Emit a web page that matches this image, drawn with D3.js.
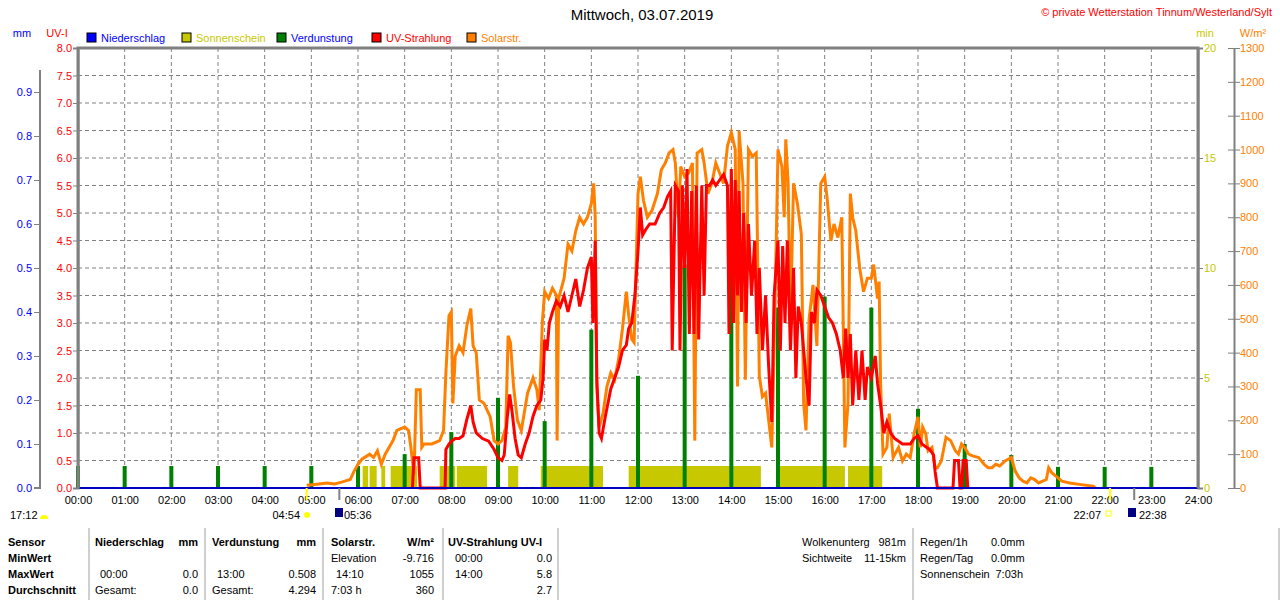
<!DOCTYPE html>
<html>
<head>
<meta charset="utf-8">
<script src="https://cdn.jsdelivr.net/npm/d3@7"></script>
<style>
  body { margin: 0; background: #fff; }
  svg text { font-family: "Liberation Sans", Arial, sans-serif; font-size: 11px; }
</style>
</head>
<body>
<svg id="chart" width="1280" height="600"></svg>
<script>
"use strict";
// hourly evaporation (mm)
var evapHours = d3.range(0, 24);
var evapValues = [0.05, 0.05, 0.05, 0.05, 0.05, 0.05, 0.05, 0.077, 0.127, 0.205, 0.152, 0.36,
  0.255, 0.508, 0.51, 0.41, 0.435, 0.41, 0.18, 0.10, 0.075, 0.048, 0.048, 0.048];

// sunshine intervals (1 min per minute)
var sunStart = ["06:06", "06:15", "06:30", "06:42", "07:45", "08:07", "09:13", "09:55", "11:48", "15:01", "16:30"];
var sunEnd = ["06:13", "06:24", "06:35", "07:16", "08:05", "08:46", "09:26", "11:15", "14:38", "16:26", "17:14"];

// solar radiation W/m²
var solarData = [["04:54",8],["05:10",12],["05:20",15],["05:30",12],["05:40",18],["05:50",25],["05:55",50],["06:00",70],["06:05",85],
["06:15",100],["06:20",90],["06:25",110],["06:30",70],["06:35",100],["06:45",140],["06:50",170],["07:00",180],["07:05",170],
["07:08",120],["07:12",40],["07:15",290],["07:20",290],["07:22",120],["07:25",130],["07:35",130],["07:45",140],["07:50",170],
["07:53",340],["07:57",510],["08:00",520],["08:02",250],["08:05",390],["08:10",420],["08:15",400],["08:20",480],["08:25",530],
["08:28",420],["08:32",400],["08:36",260],["08:42",250],["08:50",210],["08:55",140],["09:00",130],["09:05",140],["09:10",180],
["09:13",450],["09:16",430],["09:20",300],["09:25",200],["09:30",170],["09:38",280],["09:45",325],["09:50",290],["09:53",230],
["09:57",490],["10:00",580],["10:05",560],["10:10",590],["10:15",570],["10:16",140],["10:18",560],["10:25",620],["10:30",720],
["10:35",700],["10:40",760],["10:45",800],["10:50",780],["10:55",800],["11:00",840],["11:03",900],["11:05",800],["11:07",300],
["11:10",180],["11:15",220],["11:20",300],["11:25",340],["11:30",320],["11:35",380],["11:40",470],["11:45",580],["11:48",510],
["11:52",440],["11:55",430],["12:00",870],["12:03",920],["12:07",850],["12:12",800],["12:18",820],["12:25",870],["12:30",940],
["12:35",960],["12:40",990],["12:45",1000],["12:48",960],["12:52",800],["12:55",950],["13:00",920],["13:05",930],["13:10",960],
["13:13",140],["13:16",990],["13:22",1000],["13:25",960],["13:30",870],["13:35",900],["13:40",960],["13:45",930],["13:50",900],
["13:55",1010],["14:00",1050],["14:05",1000],["14:08",300],["14:10",1055],["14:15",900],["14:18",320],["14:22",1000],["14:27",980],
["14:32",990],["14:36",330],["14:40",270],["14:44",280],["14:48",200],["14:52",120],["14:55",400],["15:00",1000],["15:05",950],
["15:08",800],["15:10",1030],["15:13",900],["15:16",500],["15:20",900],["15:25",840],["15:30",750],["15:33",250],["15:36",170],
["15:40",500],["15:45",600],["15:50",420],["15:55",900],["16:00",920],["16:03",860],["16:08",730],["16:12",780],["16:17",740],
["16:22",800],["16:26",120],["16:30",250],["16:33",870],["16:36",800],["16:40",760],["16:45",650],["16:50",580],["16:55",620],
["17:00",620],["17:03",660],["17:08",560],["17:10",610],["17:12",300],["17:15",100],["17:20",120],["17:23",220],["17:28",90],
["17:35",120],["17:40",80],["17:45",100],["17:50",90],["17:55",160],["18:00",210],["18:03",120],["18:06",180],["18:10",160],
["18:13",110],["18:18",120],["18:22",60],["18:25",60],["18:30",80],["18:36",150],["18:42",140],["18:48",110],["18:52",100],
["18:56",130],["19:00",120],["19:05",100],["19:10",95],["19:18",90],["19:25",70],["19:30",60],["19:35",60],["19:40",70],
["19:45",65],["19:52",80],["20:00",90],["20:05",50],["20:10",30],["20:15",20],["20:20",15],["20:25",30],["20:30",25],["20:35",15],
["20:45",25],["20:48",60],["20:52",45],["21:00",30],["21:05",20],["21:15",15],["21:30",10],["21:45",5],["21:48",2]];

// UV index
var uvData = [["07:10",0],["07:12",0.55],["07:18",0.55],["07:20",0],["07:52",0],["07:53",0.7],["07:57",0.8],["08:00",0.85],
["08:05",0.9],["08:10",0.9],["08:15",0.95],["08:20",1.25],["08:25",1.5],["08:28",1.2],["08:32",1.0],["08:40",0.9],["08:48",0.85],
["08:55",0.7],["09:00",0.55],["09:05",0.5],["09:08",0.6],["09:12",1.3],["09:15",1.7],["09:18",1.4],["09:22",0.9],["09:26",0.6],
["09:30",0.55],["09:35",0.8],["09:40",1.0],["09:45",1.3],["09:50",1.5],["09:55",1.6],["09:58",2.0],["10:00",2.7],["10:03",2.5],
["10:06",3.0],["10:10",3.2],["10:15",3.4],["10:20",3.3],["10:25",3.5],["10:30",3.2],["10:35",3.5],["10:40",3.8],["10:45",3.3],
["10:50",3.6],["10:55",4.0],["11:00",4.2],["11:02",3.0],["11:05",4.5],["11:07",2.0],["11:10",1.0],["11:13",0.9],["11:18",1.3],
["11:25",1.8],["11:30",2.0],["11:35",2.2],["11:40",2.5],["11:45",2.6],["11:48",2.9],["11:52",3.0],["11:56",3.5],["12:00",4.3],
["12:03",5.1],["12:06",4.6],["12:10",4.7],["12:15",4.8],["12:22",4.8],["12:28",5.0],["12:33",5.1],["12:38",5.3],["12:42",5.4],
["12:44",2.5],["12:48",5.5],["12:52",5.4],["12:54",2.5],["12:57",5.5],["13:00",4.0],["13:03",5.8],["13:06",2.8],["13:09",5.4],
["13:12",2.8],["13:15",5.5],["13:18",2.7],["13:22",5.5],["13:25",3.5],["13:28",5.5],["13:32",5.5],["13:36",5.6],["13:40",5.5],
["13:45",5.6],["13:50",5.7],["13:55",5.5],["13:57",2.8],["14:00",5.8],["14:03",3.0],["14:05",5.6],["14:08",3.5],["14:10",5.4],
["14:13",3.2],["14:16",5.0],["14:19",3.0],["14:22",4.8],["14:26",3.5],["14:30",4.5],["14:33",2.8],["14:36",4.0],["14:40",2.5],
["14:44",3.5],["14:48",2.2],["14:52",1.2],["14:55",3.5],["15:00",4.5],["15:03",2.5],["15:06",4.4],["15:09",3.0],["15:12",4.5],
["15:16",2.5],["15:20",4.0],["15:23",2.0],["15:26",3.3],["15:30",3.0],["15:33",2.5],["15:36",2.0],["15:40",1.5],["15:43",3.2],
["15:47",3.0],["15:50",3.6],["15:55",3.5],["16:00",3.3],["16:05",3.1],["16:10",3.0],["16:15",2.8],["16:20",2.5],["16:24",2.0],
["16:27",2.9],["16:30",2.0],["16:33",2.8],["16:36",1.5],["16:40",2.5],["16:44",1.6],["16:48",2.5],["16:52",1.6],["16:55",2.2],
["17:00",2.0],["17:05",2.4],["17:08",1.9],["17:12",1.5],["17:16",1.0],["17:20",1.2],["17:25",1.0],["17:30",0.9],["17:40",0.8],
["17:50",0.8],["17:55",0.9],["18:00",0.95],["18:05",0.8],["18:10",0.75],["18:15",0.7],["18:20",0.6],["18:22",0.3],["18:25",0],
["18:45",0],["18:47",0.5],["18:52",0.5],["18:54",0],["18:56",0],["18:58",0.5],["19:02",0.5],["19:04",0]];

var hourTicks = d3.range(0, 25);
var mmTicks = d3.range(0, 10).map(function(d) { return d / 10; });
var uvTicks = d3.range(0, 17).map(function(d) { return d / 2; });
var minTicks = [0, 5, 10, 15, 20];
var wTicks = d3.range(0, 14).map(function(d) { return d * 100; });

function toH(s) { var p = s.split(":"); return +p[0] + p[1] / 60; }

var svg = d3.select("#chart");
var L = 78, R = 1198, T = 48, B = 488;
var x = d3.scaleLinear().domain([0, 24]).range([L, R]);
var yUV = d3.scaleLinear().domain([0, 8]).range([B, T]);
var yMM = d3.scaleLinear().domain([0, 1]).range([B, T]);
var yMin = d3.scaleLinear().domain([0, 20]).range([B, T]);
var yW = d3.scaleLinear().domain([0, 1300]).range([B, T]);

// grid
svg.append("g").selectAll("line").data(hourTicks.slice(1, 24)).enter().append("line")
  .attr("x1", function(d) { return x(d); }).attr("x2", function(d) { return x(d); })
  .attr("y1", T).attr("y2", B).attr("stroke", "#808080").attr("stroke-dasharray", "4,3");
svg.append("g").selectAll("line").data(uvTicks.slice(1, 16)).enter().append("line")
  .attr("x1", L).attr("x2", R).attr("y1", function(d) { return yUV(d); }).attr("y2", function(d) { return yUV(d); })
  .attr("stroke", "#808080").attr("stroke-dasharray", "4,3");

// sunshine
svg.append("g").selectAll("rect").data(sunStart).enter().append("rect")
  .attr("x", function(d) { return x(toH(d)); })
  .attr("width", function(d, i) { return x(toH(sunEnd[i])) - x(toH(d)); })
  .attr("y", yMin(1)).attr("height", B - yMin(1)).attr("fill", "#c8c800");

// evaporation
svg.append("g").selectAll("rect").data(evapHours).enter().append("rect")
  .attr("x", function(d) { return x(d) - 2; }).attr("width", 4)
  .attr("y", function(d, i) { return yMM(evapValues[i]); })
  .attr("height", function(d, i) { return B - yMM(evapValues[i]); })
  .attr("fill", "#008000");

var solarLine = d3.line().x(function(d) { return x(toH(d[0])); }).y(function(d) { return yW(d[1]); });
svg.append("path").datum(solarData).attr("d", solarLine).attr("fill", "none")
  .attr("stroke", "#ff8000").attr("stroke-width", 3);
var uvLine = d3.line().x(function(d) { return x(toH(d[0])); }).y(function(d) { return yUV(d[1]); });
svg.append("path").datum(uvData).attr("d", uvLine).attr("fill", "none")
  .attr("stroke", "#ff0000").attr("stroke-width", 3);

// frame
svg.append("line").attr("x1", L).attr("x2", R).attr("y1", B).attr("y2", B).attr("stroke", "#0000c0").attr("stroke-width", 2);
svg.append("path").attr("d", "M" + L + "," + B + "V" + T + "H" + R + "V" + B)
  .attr("fill", "none").attr("stroke", "#808080").attr("stroke-width", 3);

// axes
function styleAxis(g, color) {
  g.select(".domain").attr("stroke", "#808080").attr("stroke-width", 2);
  g.selectAll(".tick line").attr("stroke", "#808080");
  g.selectAll("text").attr("fill", color).style("font-size", "11px");
}
svg.append("g").attr("transform", "translate(" + L + ",0)")
  .call(d3.axisLeft(yUV).tickValues(uvTicks).tickFormat(d3.format(".1f")).tickSize(5).tickPadding(1))
  .call(styleAxis, "#ff0000");
svg.append("g").attr("transform", "translate(40,0)")
  .call(d3.axisLeft(yMM).tickValues(mmTicks).tickFormat(d3.format(".1f")).tickSize(6).tickPadding(2).tickSizeOuter(0))
  .call(styleAxis, "#0000ff")
  .select(".domain").attr("d", "M-6," + yMM(0) + "H0V" + yMM(0.95));
svg.append("g").attr("transform", "translate(" + R + ",0)")
  .call(d3.axisRight(yMin).tickValues(minTicks).tickSize(5).tickPadding(1))
  .call(styleAxis, "#c8c800");
svg.append("g").attr("transform", "translate(1234,0)")
  .call(d3.axisRight(yW).tickValues(wTicks).tickFormat(d3.format("d")).tickSize(6).tickPadding(0).tickSizeOuter(0))
  .call(styleAxis, "#ff8000")
  .selectAll(".tick line").attr("x1", -6);
var xa = svg.append("g").attr("transform", "translate(0," + B + ")")
  .call(d3.axisBottom(x).tickValues(hourTicks).tickFormat(function(d) { return d3.format("02")(d) + ":00"; }).tickSize(0).tickPadding(8))
  .call(styleAxis, "#000");
xa.select(".domain").remove();

// axis titles
svg.append("text").attr("x", 22).attr("y", 37).attr("text-anchor", "middle").attr("fill", "#0000ff").text("mm");
svg.append("text").attr("x", 57).attr("y", 37).attr("text-anchor", "middle").attr("fill", "#ff0000").text("UV-I");
svg.append("text").attr("x", 1205).attr("y", 37).attr("text-anchor", "middle").attr("fill", "#c8c800").text("min");
svg.append("text").attr("x", 1253).attr("y", 37).attr("text-anchor", "middle").attr("fill", "#ff8000").text("W/m²");

// title
svg.append("text").attr("x", 642).attr("y", 20).attr("text-anchor", "middle").style("font-size", "15px").text("Mittwoch, 03.07.2019");
svg.append("text").attr("x", 1272).attr("y", 16).attr("text-anchor", "end").attr("fill", "#ff0000").text("© private Wetterstation Tinnum/Westerland/Sylt");

// legend
var legNames = ["Niederschlag", "Sonnenschein", "Verdunstung", "UV-Strahlung", "Solarstr."];
var legColors = ["#0000ff", "#c8c800", "#008000", "#ff0000", "#ff8000"];
var legText = ["#0000ff", "#c8c800", "#0000ff", "#ff0000", "#ff8000"];
var legX = [87, 182, 277, 372, 467];
var lg = svg.append("g").selectAll("g").data(legNames).enter().append("g")
  .attr("transform", function(d, i) { return "translate(" + legX[i] + ",33)"; });
lg.append("rect").attr("width", 9).attr("height", 9).attr("fill", function(d, i) { return legColors[i]; }).attr("stroke", "#000");
lg.append("text").attr("x", 14).attr("y", 9).attr("fill", function(d, i) { return legText[i]; }).text(function(d) { return d; });

// sun rise/set markers
var sunMarks = [["04:54", "#ffff00"], ["05:36", "#808080"], ["22:07", "#ffff00"], ["22:38", "#808080"]];
svg.append("g").selectAll("line").data(sunMarks).enter().append("line")
  .attr("x1", function(d) { return x(toH(d[0])); }).attr("x2", function(d) { return x(toH(d[0])); })
  .attr("y1", B).attr("y2", 500).attr("stroke", function(d) { return d[1]; }).attr("stroke-width", 2);
svg.append("text").attr("x", 300).attr("y", 519).attr("text-anchor", "end").text("04:54");
svg.append("circle").attr("cx", 307).attr("cy", 515).attr("r", 3).attr("fill", "#ffff00");
svg.append("rect").attr("x", 335).attr("y", 508).attr("width", 8).attr("height", 9).attr("fill", "#000080");
svg.append("text").attr("x", 344).attr("y", 519).text("05:36");
svg.append("text").attr("x", 10).attr("y", 519).text("17:12");
svg.append("path").attr("d", "M40,519a4,4 0 0 1 8,0z").attr("fill", "#ffff00");
svg.append("text").attr("x", 1101).attr("y", 519).attr("text-anchor", "end").text("22:07");
svg.append("rect").attr("x", 1106).attr("y", 511).attr("width", 5).attr("height", 5).attr("fill", "none").attr("stroke", "#ffff00");
svg.append("rect").attr("x", 1128).attr("y", 508).attr("width", 8).attr("height", 9).attr("fill", "#000080");
svg.append("text").attr("x", 1139).attr("y", 519).text("22:38");

// table
var rowsY = [546, 562, 578, 594];
var tbl = svg.append("g");
[89, 205, 323, 443, 558, 913].forEach(function(vx) {
  tbl.append("line").attr("x1", vx).attr("x2", vx).attr("y1", 528).attr("y2", 600).attr("stroke", "#a0a0a0");
});
tbl.append("line").attr("x1", 1279).attr("x2", 1279).attr("y1", 528).attr("y2", 600).attr("stroke", "#a0a0a0");
var cells = [
  [8, 0, "Sensor", "start", 1], [8, 1, "MinWert", "start", 1], [8, 2, "MaxWert", "start", 1], [8, 3, "Durchschnitt", "start", 1],
  [95, 0, "Niederschlag", "start", 1], [198, 0, "mm", "end", 1], [100, 2, "00:00", "start", 0], [198, 2, "0.0", "end", 0],
  [95, 3, "Gesamt:", "start", 0], [198, 3, "0.0", "end", 0],
  [212, 0, "Verdunstung", "start", 1], [316, 0, "mm", "end", 1], [217, 2, "13:00", "start", 0], [316, 2, "0.508", "end", 0],
  [212, 3, "Gesamt:", "start", 0], [316, 3, "4.294", "end", 0],
  [331, 0, "Solarstr.", "start", 1], [434, 0, "W/m²", "end", 1], [331, 1, "Elevation", "start", 0], [434, 1, "-9.716", "end", 0],
  [336, 2, "14:10", "start", 0], [434, 2, "1055", "end", 0], [331, 3, "7:03 h", "start", 0], [434, 3, "360", "end", 0],
  [448, 0, "UV-Strahlung UV-I", "start", 1], [455, 1, "00:00", "start", 0], [552, 1, "0.0", "end", 0],
  [455, 2, "14:00", "start", 0], [552, 2, "5.8", "end", 0], [552, 3, "2.7", "end", 0],
  [802, 0, "Wolkenunterg", "start", 0], [906, 0, "981m", "end", 0], [802, 1, "Sichtweite", "start", 0], [906, 1, "11-15km", "end", 0],
  [920, 0, "Regen/1h", "start", 0], [991, 0, "0.0mm", "start", 0], [920, 1, "Regen/Tag", "start", 0], [991, 1, "0.0mm", "start", 0],
  [920, 2, "Sonnenschein", "start", 0], [1023, 2, "7:03h", "end", 0]
];
tbl.selectAll("text").data(cells).enter().append("text")
  .attr("x", function(d) { return d[0]; }).attr("y", function(d) { return rowsY[d[1]]; })
  .attr("text-anchor", function(d) { return d[3]; })
  .style("font-weight", function(d) { return d[4] ? "bold" : "normal"; })
  .text(function(d) { return d[2]; });
</script>
</body>
</html>
